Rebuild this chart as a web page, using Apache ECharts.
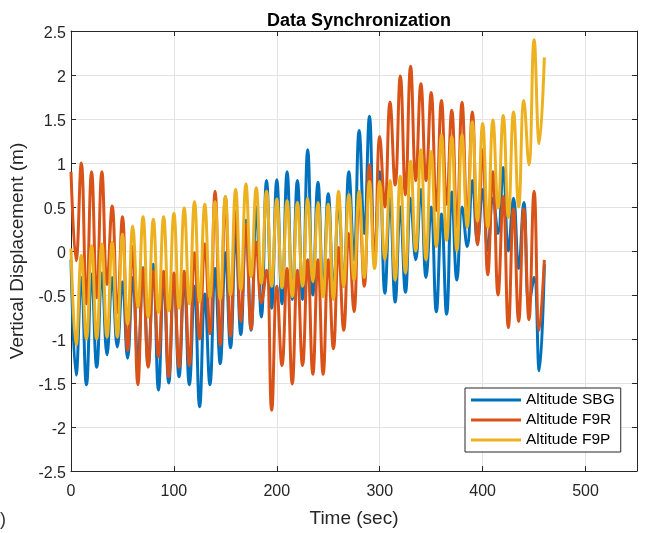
<!DOCTYPE html>
<html>
<head>
<meta charset="utf-8">
<script src="https://cdn.jsdelivr.net/npm/echarts@6/dist/echarts.min.js"></script>
<style>
html,body{margin:0;padding:0;background:#fff;}
#chart{width:647px;height:533px;}
</style>
</head>
<body>
<div id="chart"></div>
<script>
// Time samples (sec): alternating crests / troughs of the ~10 s oscillation
const timeSec = [0,5,10,15,20,25,30,35,40,45,50,55,60,65,70,75,80,85,90,95,
  100,105,110,115,120,125,130,135,140,145,150,155,160,165,170,175,180,185,190,195,
  200,205,210,215,220,225,230,235,240,245,250,255,260,265,270,275,280,285,290,295,
  300,305,310,315,320,325,330,335,340,345,350,355,360,365,370,375,380,385,390,395,
  400,405,410,415,420,425,430,435,440,445,450,455,460];

const altitudeSBG = [-0.1,-1.41,-0.3,-1.52,-0.26,-1.32,-0.25,-1.18,-0.3,-1.09,
  -0.35,-1.22,-0.3,-1.25,-0.19,-1.3,-0.15,-1.58,-0.3,-1.5,
  -0.26,-1.43,-0.3,-1.52,-0.4,-1.77,-0.49,-1.52,-0.2,-1.28,
  -0.02,-1.1,0.2,-0.95,0.35,-0.9,0.5,-0.75,0.8,-0.65,
  0.81,-0.6,0.9,-0.55,0.8,-0.55,1.15,-0.5,0.78,-0.45,
  0.65,-0.45,0.55,-0.4,0.9,-0.1,1.37,0.2,1.53,-0.1,
  0.9,-0.48,0.6,-0.58,0.5,-0.47,0.6,-0.1,0.7,-0.3,
  0.5,-0.69,0.42,-0.72,0.67,-0.33,0.5,0.05,0.8,0.1,
  0.7,0.0,0.6,0.2,0.95,0.0,0.6,-0.2,0.55,-0.6,
  -0.3,-1.36,-0.15];

const altitudeF9R = [0.9,-0.11,1.0,-0.6,0.9,-0.53,0.9,-0.38,0.51,-0.7,
  0.39,-1.13,0.05,-1.52,-0.2,-1.32,-0.23,-1.2,-0.23,-1.43,
  -0.25,-1.32,-0.23,-1.3,-0.02,-1.0,0.08,-0.94,0.68,-1.07,
  0.62,-0.97,0.45,-0.8,0.3,-0.89,0.1,-0.59,-0.22,-1.81,
  -0.4,-1.3,-0.2,-1.51,-0.22,-1.3,-0.1,-1.4,-0.1,-1.4,
  -0.1,-1.11,0.04,-0.9,0.2,-0.69,0.6,-0.4,0.98,-0.1,
  1.3,0.5,1.69,0.75,1.99,0.64,2.1,0.8,1.9,0.8,
  1.8,0.46,1.71,0.53,1.6,0.27,1.69,0.38,1.58,0.07,
  1.15,-0.27,0.9,-0.5,0.62,-0.87,0.48,-0.8,0.48,-0.78,
  0.68,-0.9,-0.1];

const altitudeF9P = [0.03,-1.07,-0.05,-1.0,0.06,-1.0,0.08,-0.98,0.1,-0.98,
  0.19,-0.83,0.28,-0.64,0.39,-0.75,0.36,-0.7,0.39,-0.68,
  0.43,-0.65,0.49,-0.6,0.56,-0.58,0.53,-0.53,0.56,-0.55,
  0.62,-0.5,0.7,-0.44,0.76,-0.29,0.72,-0.37,0.68,-0.4,
  0.59,-0.42,0.57,-0.52,0.55,-0.4,0.6,-0.35,0.55,-0.52,
  0.53,-0.55,0.68,-0.4,0.64,-0.33,0.68,-0.3,0.79,-0.2,
  0.79,-0.1,0.8,-0.33,0.85,-0.25,1.02,0.0,1.15,-0.1,
  1.13,0.05,1.32,0.12,1.3,0.0,1.32,0.27,1.47,0.34,
  1.45,0.27,1.49,0.49,1.54,0.38,1.58,0.5,1.71,0.98,
  2.4,1.22,2.2];

const seriesNames = ['Altitude SBG','Altitude F9R','Altitude F9P'];
const seriesColors = ['#0072BD','#D95319','#EDB120'];
const xTicks = [0,100,200,300,400,500];
const yTicks = [-2.5,-2,-1.5,-1,-0.5,0,0.5,1,1.5,2,2.5];

const chart = echarts.init(document.getElementById('chart'), null, {renderer:'canvas'});
const font = 'Liberation Sans, Arial, Helvetica, sans-serif';
const axisColor = '#262626';
const gridColor = '#e3e3e3';

function pairs(vals){ return timeSec.map((t,i)=>[t, vals[i]]); }

const lineSeries = [altitudeSBG, altitudeF9R, altitudeF9P].map((vals, k) => ({
  name: seriesNames[k],
  type: 'line',
  xAxisIndex: 0, yAxisIndex: 0,
  data: pairs(vals),
  smooth: 0.45,
  showSymbol: false,
  symbol: 'none',
  lineStyle: {width: 3, color: seriesColors[k]},
  itemStyle: {color: seriesColors[k]},
  z: 2 + k,
  animation: false
}));

const xBase = {
  type: 'value', min: xTicks[0], max: 550, interval: 100,
  axisLine: {show: true, onZero: false, lineStyle: {color: axisColor, width: 1}},
  axisTick: {show: true, inside: true, length: 5, lineStyle: {color: axisColor}},
};
const yBase = {
  type: 'value', min: yTicks[0], max: yTicks[yTicks.length-1], interval: 0.5,
  axisLine: {show: true, onZero: false, lineStyle: {color: axisColor, width: 1}},
  axisTick: {show: true, inside: true, length: 5, lineStyle: {color: axisColor}},
};

chart.setOption({
  backgroundColor: '#ffffff',
  animation: false,
  textStyle: {fontFamily: font},
  title: {
    text: 'Data Synchronization',
    left: 354, top: 7, textAlign: 'center',
    textStyle: {fontSize: 18, fontWeight: 'bold', color: '#000', fontFamily: font}
  },
  grid: {left: 71, right: 10, top: 31, bottom: 57, containLabel: false},
  legend: {
    data: seriesNames,
    orient: 'vertical',
    left: 465, top: 388,
    icon: 'rect',
    itemWidth: 50, itemHeight: 3,
    itemGap: 4,
    padding: [4, 6, 4, 6],
    backgroundColor: '#ffffff',
    borderColor: '#262626', borderWidth: 1,
    textStyle: {fontSize: 15.5, color: '#000', fontFamily: font, lineHeight: 16}
  },
  xAxis: [
    Object.assign({}, xBase, {
      position: 'bottom',
      axisLabel: {show: true, fontSize: 16, color: axisColor, margin: 13, fontFamily: font,
        formatter: v => xTicks.includes(v) ? String(v) : ''},
      splitLine: {show: true, lineStyle: {color: gridColor, width: 1}},
      name: 'Time (sec)', nameLocation: 'middle', nameGap: 38,
      nameTextStyle: {fontSize: 19, color: axisColor, fontFamily: font}
    }),
    Object.assign({}, xBase, {
      position: 'top',
      axisLabel: {show: false}, splitLine: {show: false}
    })
  ],
  yAxis: [
    Object.assign({}, yBase, {
      position: 'left',
      axisLabel: {show: true, fontSize: 16, color: axisColor, margin: 5, fontFamily: font,
        verticalAlign: 'top', lineHeight: 6,
        formatter: v => String(v)},
      splitLine: {show: true, lineStyle: {color: gridColor, width: 1}},
      name: 'Vertical Displacement (m)', nameLocation: 'middle', nameGap: 43,
      nameTextStyle: {fontSize: 19, color: axisColor, fontFamily: font}
    }),
    Object.assign({}, yBase, {
      position: 'right',
      axisLabel: {show: false}, splitLine: {show: false}
    })
  ],
  graphic: [{
    type: 'text', left: 0, top: 511,
    style: {text: ')', fontSize: 18, fill: '#333', fontFamily: font}
  }],
  series: lineSeries
});
</script>
</body>
</html>
